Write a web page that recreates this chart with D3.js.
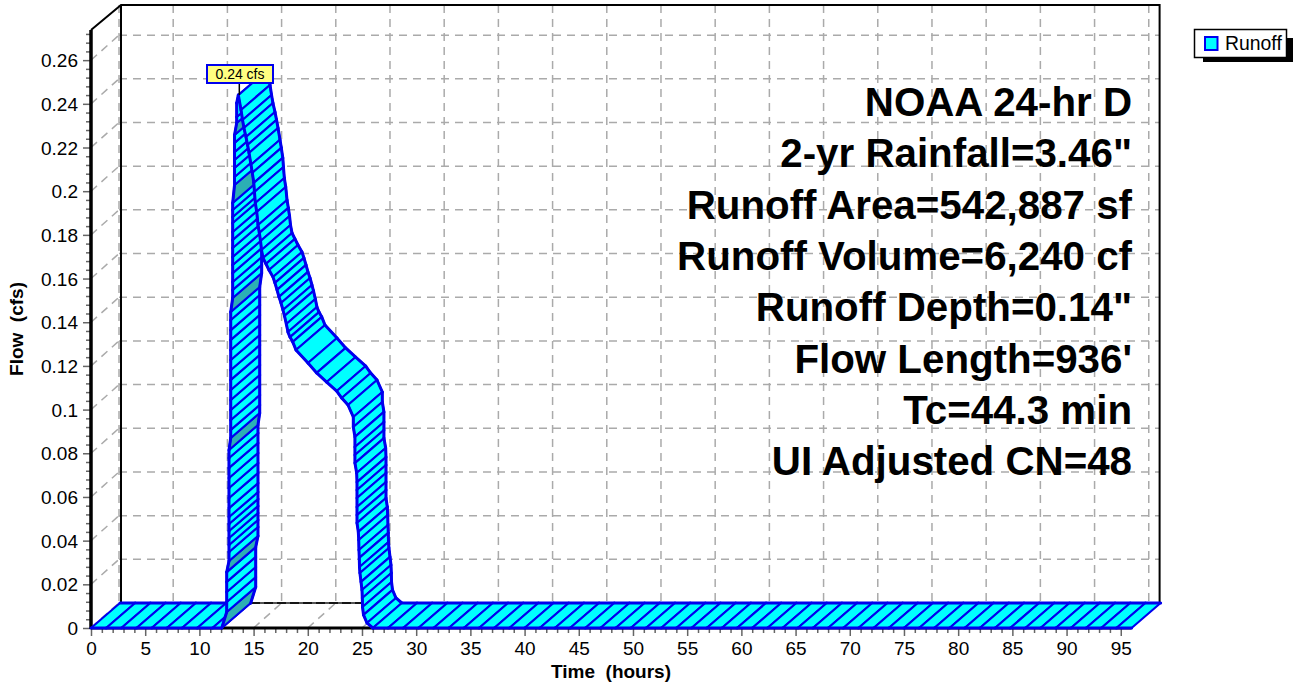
<!DOCTYPE html>
<html><head><meta charset="utf-8">
<script src="https://cdnjs.cloudflare.com/ajax/libs/d3/7.8.5/d3.min.js"></script>
<style>html,body{margin:0;padding:0;background:#fff}svg{display:block}text{font-family:"Liberation Sans",Arial,sans-serif;white-space:pre}</style>
</head><body><svg id="c" width="1294" height="686"></svg>
<script>
const hours=[0,1.4,2.8,4.2,5.6,7,8.4,9.8,11.2,12.06,
12.52,12.52,12.52,12.52,12.52,
12.73,12.73,12.73,12.73,12.73,12.73,12.73,12.73,12.73,12.73,12.73,12.73,12.73,12.73,
12.89,12.89,12.89,12.89,12.89,12.89,12.89,12.89,12.89,12.89,12.89,12.89,12.89,12.89,
13.07,13.07,13.07,13.07,13.07,13.07,13.07,13.07,13.07,13.07,13.07,13.07,13.07,
13.24,13.24,13.24,13.24,13.24,13.24,13.24,
13.44,13.44,13.44,13.59,
13.84,13.98,14.11,14.30,14.44,14.58,14.76,14.88,15.02,15.08,15.16,15.29,15.41,15.53,15.64,15.73,15.87,16.14,16.42,16.79,16.97,17.16,17.34,17.53,17.71,17.85,18.02,18.17,18.36,18.61,18.91,20.02,20.82,21.74,22.67,23.13,23.71,24.20,24.20,
24.35,24.35,24.35,24.35,24.51,24.54,24.54,24.54,24.54,24.54,24.54,24.66,24.70,24.72,24.75,24.77,24.81,24.91,25.0,25.03,25.05,25.14,25.46,
26.0,27.4,28.8,30.2,31.6,33,34.4,35.8,37.2,38.6,40,41.4,42.8,44.2,45.6,47,48.4,49.8,51.2,52.6,54,55.4,56.8,58.2,59.6,61,62.4,63.8,65.2,66.6,68,69.4,70.8,72.2,73.6,75,76.4,77.8,79.2,80.6,82,83.4,84.8,86.2,87.6,89,90.4,91.8,93.2,94.6,96];
const flow=[0,0,0,0,0,0,0,0,0,0,
.0073,.0119,.0165,.0211,.0256,
.0307,.0348,.038,.0412,.0444,.0476,.0508,.0549,.0595,.0641,.0687,.0733,.0778,.0815,
.087,.0907,.0952,.0998,.1044,.109,.1136,.1181,.1227,.1273,.1319,.1364,.141,.1447,
.1511,.1548,.1584,.1625,.1662,.1699,.174,.1777,.1813,.1854,.1882,.1914,.1946,
.2028,.2065,.2106,.2143,.2179,.2221,.2257,
.2312,.234,.2404,.244,
.2372,.2326,.2289,.2248,.2212,.2175,.2121,.2084,.2038,.1996,.1946,.1905,.1845,.1809,.1772,.1731,.1694,.1667,.1639,.1607,.158,.1548,.1516,.1488,.1456,.1429,.1392,.1355,.1332,.131,.1273,.1213,.1168,.1126,.1085,.1053,.1021,.0966,.092,
.0875,.0829,.0792,.0755,.071,.0668,.0632,.0595,.0554,.0517,.0481,.044,.0403,.0357,.0321,.0279,.0252,.0211,.0174,.0137,.0096,.006,.0023,
0,0,0,0,0,0,0,0,0,0,0,0,0,0,0,0,0,0,0,0,0,0,0,0,0,0,0,0,0,0,0,0,0,0,0,0,0,0,0,0,0,0,0,0,0,0,0,0,0,0,0];
const xTicks=[0,5,10,15,20,25,30,35,40,45,50,55,60,65,70,75,80,85,90,95];
const xMinor=[1,2,3,4,6,7,8,9,11,12,13,14,16,17,18,19,21,22,23,24,26,27,28,29,31,32,33,34,36,37,38,39,41,42,43,44,46,47,48,49,51,52,53,54,56,57,58,59,61,62,63,64,66,67,68,69,71,72,73,74,76,77,78,79,81,82,83,84,86,87,88,89,91,92,93,94];
const yTicks=[0,.02,.04,.06,.08,.1,.12,.14,.16,.18,.2,.22,.24,.26];
const yMinor=[.004,.008,.012,.016,.024,.028,.032,.036,.044,.048,.052,.056,.064,.068,.072,.076,.084,.088,.092,.096,.104,.108,.112,.116,.124,.128,.132,.136,.144,.148,.152,.156,.164,.168,.172,.176,.184,.188,.192,.196,.204,.208,.212,.216,.224,.228,.232,.236,.244,.248,.252,.256,.264,.268,.272];
const infoLines=["NOAA 24-hr D",'2-yr Rainfall=3.46"',"Runoff Area=542,887 sf","Runoff Volume=6,240 cf",'Runoff Depth=0.14"',"Flow Length=936'","Tc=44.3 min","UI Adjusted CN=48"];
const peakLabel="0.24 cfs", peakHour=13.59, peakFlow=.244;
const seriesName="Runoff", xTitle="Time  (hours)", yTitle="Flow  (cfs)";

const svg=d3.select("#c");
const DX=28, DY=25, L=91, R=1131.6, B=628, T=30;
const x=d3.scaleLinear().domain([0,96]).range([L,R]);
const y=d3.scaleLinear().domain([0,.2738]).range([B,T]);
const GRID="#aaaaaa", DASH="8,6";

// grid
const g=svg.append("g").attr("fill","none").attr("stroke",GRID).attr("stroke-width",1.5).attr("stroke-dasharray",DASH);
xTicks.forEach(t=>{
  g.append("line").attr("x1",x(t)+DX).attr("x2",x(t)+DX).attr("y1",T-DY).attr("y2",B-DY);
  g.append("line").attr("x1",x(t)).attr("x2",x(t)+DX).attr("y1",B).attr("y2",B-DY);
});
yTicks.forEach(v=>{
  g.append("line").attr("x1",L).attr("x2",L+DX).attr("y1",y(v)).attr("y2",y(v)-DY);
  if(v>0) g.append("line").attr("x1",L+DX).attr("x2",R+DX).attr("y1",y(v)-DY).attr("y2",y(v)-DY);
});
// walls
const w=svg.append("g").attr("fill","none").attr("stroke","#000");
w.append("path").attr("stroke-width",2).attr("d",`M${L},${T}L${L+30},${T-DY}H${R+DX}V${B-DY}`);
w.append("line").attr("stroke-width",2).attr("x1",L+30).attr("x2",L+30).attr("y1",T-DY).attr("y2",B-DY);
w.append("line").attr("stroke-width",2).attr("stroke","#555").attr("x1",L+30).attr("x2",R+DX).attr("y1",B-DY).attr("y2",B-DY);
w.append("line").attr("stroke-width",1.5).attr("stroke-dasharray","9,4").attr("x1",L+30).attr("x2",R+DX).attr("y1",B-DY).attr("y2",B-DY);

// ticks
const ax=svg.append("g").attr("transform",`translate(0,${B})`).call(d3.axisBottom(x).tickValues(xTicks).tickSize(8).tickFormat(d=>String(d)));
ax.select(".domain").remove();
ax.selectAll("line").attr("stroke","#666").attr("stroke-width",1.5);
ax.selectAll("text").attr("font-size",19).attr("fill","#000").attr("font-family",'"Liberation Sans",Arial,sans-serif').attr("y",14).attr("dy","0.71em");
const axm=svg.append("g").attr("transform",`translate(0,${B})`).call(d3.axisBottom(x).tickValues(xMinor).tickSize(5).tickFormat(""));
axm.select(".domain").remove(); axm.selectAll("line").attr("stroke","#666").attr("stroke-width",1.5);
const ay=svg.append("g").attr("transform",`translate(${L},0)`).call(d3.axisLeft(y).tickValues(yTicks).tickSize(8).tickFormat(d=>String(d)));
ay.select(".domain").remove();
ay.selectAll("line").attr("stroke","#666").attr("stroke-width",1.5);
ay.selectAll("text").attr("font-size",19).attr("fill","#000").attr("font-family",'"Liberation Sans",Arial,sans-serif').attr("x",-13).attr("dy","0.35em");
const aym=svg.append("g").attr("transform",`translate(${L},0)`).call(d3.axisLeft(y).tickValues(yMinor).tickSize(5).tickFormat(""));
aym.select(".domain").remove(); aym.selectAll("line").attr("stroke","#666").attr("stroke-width",1.5);

// axes lines
svg.append("line").attr("x1",L).attr("x2",L).attr("y1",T).attr("y2",B+1).attr("stroke","#000").attr("stroke-width",3.5);
svg.append("line").attr("x1",L).attr("x2",R).attr("y1",B).attr("y2",B).attr("stroke","#000").attr("stroke-width",3);

// ribbon
const rib=svg.append("g").attr("stroke","#0000ee").attr("stroke-linejoin","round").attr("stroke-linecap","round");
const pts=hours.map((h,i)=>({h,q:flow[i]}));
const line=d3.line();
d3.pairs(pts).forEach(([a,b])=>{
  const shaded=b.q>a.q&&(b.h-a.h)>.155;
  const pa=[x(a.h),y(a.q)],pb=[x(b.h),y(b.q)];
  const qa=[pa[0]+DX+1,pa[1]-DY],qb=[pb[0]+DX+1,pb[1]-DY];
  rib.append("path").attr("fill",shaded?"#2cb0b4":"#00ffff").attr("stroke-width",2.1).attr("d",line([pa,pb,qb,qa])+"Z");
  rib.append("path").attr("fill","none").attr("stroke-width",3).attr("d",line([pa,pb]));
  rib.append("path").attr("fill","none").attr("stroke-width",3).attr("d",line([qa,qb]));
});

// peak mark
const px=x(peakHour)+1, py=y(peakFlow);
svg.append("line").attr("x1",px).attr("x2",px).attr("y1",py).attr("y2",83).attr("stroke","#000").attr("stroke-width",1.5);
svg.append("rect").attr("x",207).attr("y",65).attr("width",66).attr("height",18).attr("fill","#ffff80").attr("stroke","#0000ee").attr("stroke-width",2);
svg.append("text").attr("x",240).attr("y",79).attr("text-anchor","middle").attr("font-size",14).text(peakLabel);

// info
svg.append("g").selectAll("text").data(infoLines).join("text")
 .attr("x",1132).attr("y",(d,i)=>116+i*51.3).attr("text-anchor","end").attr("font-size",40.3).attr("font-weight","bold").text(d=>d);

// titles
svg.append("text").attr("x",611).attr("y",678).attr("text-anchor","middle").attr("font-size",19).attr("font-weight","bold").text(xTitle);
svg.append("text").attr("transform","translate(23,329) rotate(-90)").attr("text-anchor","middle").attr("font-size",19).attr("font-weight","bold").text(yTitle);

// legend
svg.append("rect").attr("x",1203).attr("y",38).attr("width",90).attr("height",24).attr("fill","#000");
svg.append("rect").attr("x",1194.5).attr("y",29.5).attr("width",92).attr("height",28).attr("fill","#fff").attr("stroke","#000").attr("stroke-width",1.5);
svg.append("rect").attr("x",1205).attr("y",37).attr("width",12.5).attr("height",13).attr("fill","#00ffff").attr("stroke","#0000ee").attr("stroke-width",2);
svg.append("text").attr("x",1225).attr("y",50).attr("font-size",19.4).text(seriesName);
</script></body></html>
